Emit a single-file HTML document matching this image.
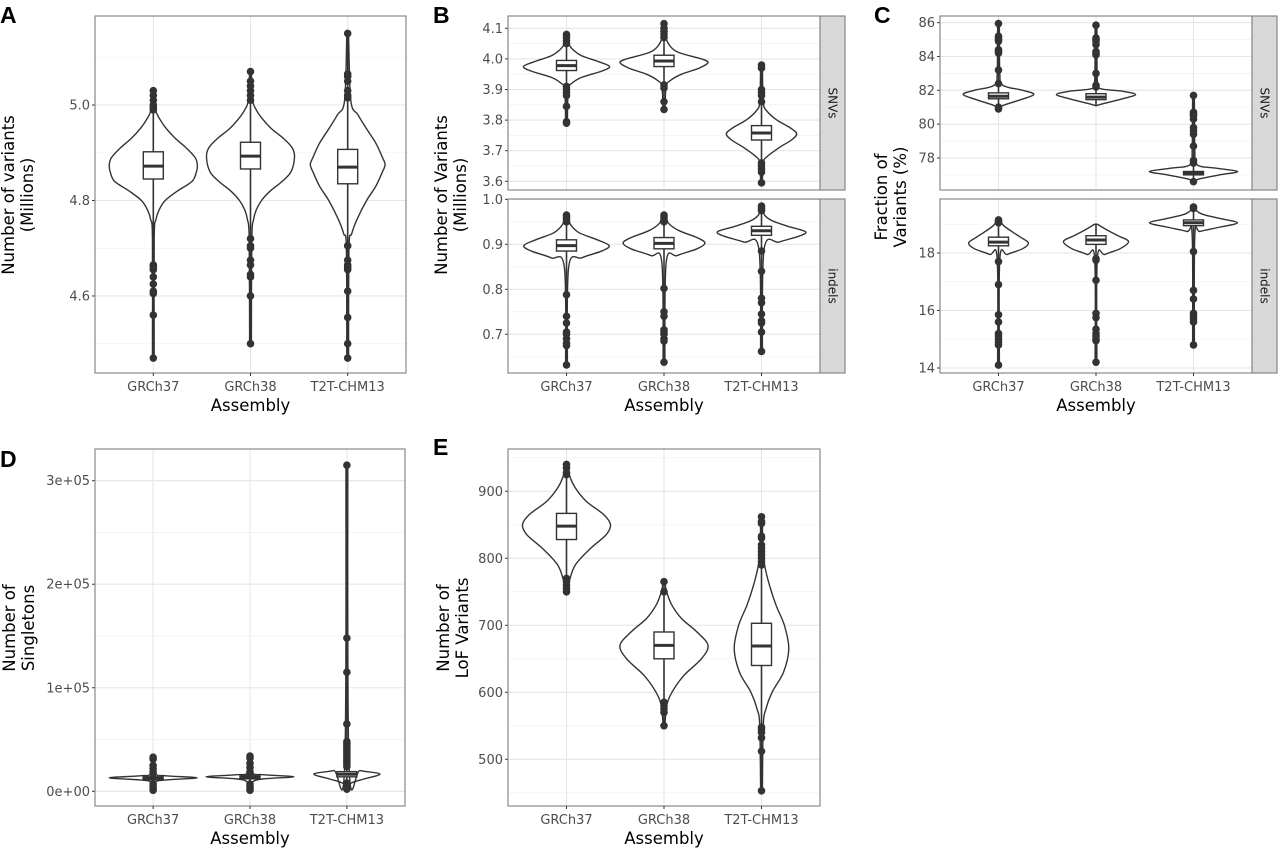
<!DOCTYPE html>
<html><head><meta charset="utf-8"><style>
body{margin:0;background:#fff;}
svg{display:block;font-family:"DejaVu Sans","Liberation Sans",sans-serif;}
</style></head><body>
<svg id="fig" width="1280" height="848" viewBox="0 0 1280 848" xmlns="http://www.w3.org/2000/svg"></svg>
<script>
// ---------- DATA ----------
const categories = ["GRCh37","GRCh38","T2T-CHM13"];

// Panel A
const A_q1=[4.845,4.866,4.835], A_med=[4.872,4.893,4.870], A_q3=[4.902,4.922,4.907];
const A_out=[[5.03,5.02,5.01,5.0,4.995,4.99,4.665,4.66,4.655,4.64,4.625,4.61,4.605,4.56,4.47],
 [5.07,5.05,5.04,5.03,5.02,5.01,4.72,4.705,4.70,4.675,4.665,4.645,4.64,4.6,4.5],
 [5.15,5.065,5.06,5.05,5.03,5.02,5.015,4.705,4.675,4.665,4.66,4.655,4.61,4.555,4.5,4.47]];
const A_vv=[[4.47,4.72,4.76,4.78,4.80,4.82,4.84,4.86,4.875,4.89,4.91,4.93,4.95,4.97,4.99,5.03],
 [4.50,4.72,4.76,4.78,4.80,4.82,4.84,4.86,4.89,4.91,4.93,4.95,4.97,4.99,5.01,5.07],
 [4.47,4.70,4.73,4.76,4.80,4.83,4.86,4.875,4.89,4.92,4.95,4.98,5.01,5.15]];
const A_vd=[[0.02,0.02,0.06,0.13,0.27,0.55,0.88,0.98,1.0,0.95,0.75,0.5,0.3,0.15,0.05,0.02],
 [0.02,0.03,0.07,0.13,0.25,0.45,0.72,0.92,1.0,0.95,0.75,0.48,0.28,0.13,0.05,0.02],
 [0.02,0.03,0.09,0.21,0.43,0.64,0.79,0.85,0.79,0.64,0.43,0.23,0.07,0.02]];

// Panel B SNVs
const BS_q1=[3.962,3.975,3.735], BS_med=[3.978,3.993,3.758], BS_q3=[3.995,4.012,3.782];
const BS_out=[[4.08,4.07,4.06,4.05,3.91,3.9,3.89,3.88,3.845,3.795,3.79],
 [4.115,4.1,4.09,4.08,4.07,3.915,3.905,3.86,3.835],
 [3.98,3.97,3.90,3.89,3.88,3.86,3.66,3.65,3.64,3.63,3.595]];
const BS_vv=[[3.79,3.90,3.92,3.94,3.96,3.975,3.99,4.01,4.03,4.05,4.08],
 [3.835,3.91,3.93,3.95,3.97,3.988,4.0,4.02,4.04,4.07,4.115],
 [3.595,3.66,3.68,3.71,3.735,3.755,3.775,3.80,3.83,3.86,3.98]];
const BS_vd=[[0.02,0.04,0.12,0.35,0.8,0.98,0.75,0.35,0.15,0.05,0.02],
 [0.02,0.05,0.15,0.4,0.8,1.0,0.85,0.35,0.15,0.04,0.02],
 [0.02,0.04,0.12,0.4,0.68,0.8,0.65,0.35,0.12,0.04,0.02]];
// Panel B indels
const BI_q1=[0.885,0.89,0.92], BI_med=[0.897,0.902,0.93], BI_q3=[0.91,0.915,0.94];
const BI_out=[[0.965,0.96,0.955,0.95,0.788,0.74,0.725,0.705,0.70,0.69,0.68,0.675,0.632],
 [0.965,0.96,0.955,0.95,0.802,0.75,0.74,0.71,0.705,0.70,0.69,0.685,0.638],
 [0.985,0.98,0.975,0.885,0.84,0.78,0.77,0.745,0.73,0.725,0.705,0.662]];
const BI_vv=[[0.632,0.85,0.87,0.885,0.897,0.91,0.925,0.94,0.955,0.965],
 [0.638,0.86,0.875,0.89,0.903,0.915,0.93,0.945,0.96,0.965],
 [0.662,0.89,0.905,0.918,0.928,0.94,0.952,0.965,0.985]];
const BI_vd=[[0.02,0.05,0.35,0.8,0.97,0.7,0.3,0.12,0.04,0.02],
 [0.02,0.05,0.3,0.75,0.93,0.75,0.35,0.12,0.04,0.02],
 [0.02,0.06,0.4,0.85,1.0,0.6,0.25,0.07,0.02]];

// Panel C SNVs
const CS_q1=[81.5,81.45,77.0], CS_med=[81.65,81.6,77.1], CS_q3=[81.85,81.8,77.2];
const CS_out=[[85.95,85.2,85.1,85.0,84.9,84.4,84.3,84.2,83.2,82.4,81.0,80.9],
 [85.85,85.1,85.0,84.9,84.7,84.3,84.2,84.1,83.0,82.3,82.2],
 [81.7,80.7,80.6,80.5,80.3,79.8,79.6,79.4,78.7,77.85,77.7,76.6]];
const CS_vv=[[80.9,81.1,81.4,81.75,82.0,82.3,83,85.95],
 [81.1,81.2,81.5,81.75,81.95,82.1,82.5,85.85],
 [76.6,76.75,77.0,77.2,77.4,77.6,78.5,81.7]];
const CS_vd=[[0.02,0.1,0.45,0.8,0.55,0.1,0.03,0.02],
 [0.02,0.15,0.6,0.9,0.6,0.1,0.03,0.02],
 [0.02,0.12,0.6,1.0,0.5,0.08,0.03,0.02]];
// Panel C indels
const CI_q1=[18.25,18.3,18.95], CI_med=[18.38,18.45,19.05], CI_q3=[18.55,18.6,19.15];
const CI_out=[[19.15,19.1,19.05,17.7,16.9,15.85,15.6,15.2,15.1,15.0,14.9,14.8,14.1],
 [17.8,17.75,17.05,15.9,15.75,15.35,15.2,15.1,15.0,14.95,14.2],
 [19.6,19.55,18.05,16.7,16.4,15.9,15.8,15.7,15.6,14.8]];
const CI_vv=[[14.1,17.8,17.95,18.15,18.35,18.55,18.75,18.95,19.15],
 [14.2,17.8,17.95,18.15,18.4,18.6,18.8,19.0],
 [14.8,18.6,18.75,18.9,19.05,19.2,19.35,19.5,19.6]];
const CI_vd=[[0.02,0.03,0.2,0.55,0.68,0.5,0.3,0.12,0.02],
 [0.02,0.03,0.2,0.55,0.74,0.5,0.25,0.03],
 [0.02,0.03,0.15,0.6,1.0,0.6,0.2,0.05,0.02]];

// Panel D (thousands)
const D_q1=[11,12,14], D_med=[12.5,13.5,16.5], D_q3=[14,15,19];
const D_out=[[33,31,25,22,19,17,7,5,3,1],
 [34,32,27,23,19,17,7,5,3,1],
 [315,148,115,65,48,46,44,42,40,38,36,34,32,30,28,26,24,8,6,4,2]];
const D_vv=[[1,9,11,13,15,17,33],[1,9,12,14,16,18,34],[2,8,12,16.7,20,24,315]];
const D_vd=[[0.02,0.06,0.3,1.0,0.3,0.06,0.02],[0.02,0.06,0.3,1.0,0.3,0.06,0.02],[0.02,0.1,0.4,0.75,0.3,0.05,0.02]];

// Panel E
const E_q1=[828,650,640], E_med=[848,670,669], E_q3=[867,690,703];
const E_out=[[940,935,928,925,770,765,760,755,750],
 [765,750,585,580,575,570,550],
 [862,855,852,833,830,820,815,810,805,800,795,790,548,545,540,532,512,453]];
const E_vv=[[750,765,790,815,835,850,865,885,905,925,940],
 [549,580,600,625,650,670,690,710,730,750,765],
 [453,550,575,600,630,665,700,730,760,790,815,862]];
const E_vd=[[0.02,0.06,0.2,0.55,0.9,1.0,0.85,0.45,0.2,0.06,0.02],
 [0.02,0.06,0.18,0.45,0.85,1.0,0.75,0.4,0.18,0.06,0.02],
 [0.02,0.04,0.1,0.24,0.5,0.62,0.52,0.33,0.18,0.07,0.03,0.02]];

// tick labels
const A_ticks=[4.6,4.8,5.0], A_tickLabels=["4.6","4.8","5.0"];
const BS_ticks=[3.6,3.7,3.8,3.9,4.0,4.1], BS_tickLabels=["3.6","3.7","3.8","3.9","4.0","4.1"];
const BI_ticks=[0.7,0.8,0.9,1.0], BI_tickLabels=["0.7","0.8","0.9","1.0"];
const CS_ticks=[78,80,82,84,86], CS_tickLabels=["78","80","82","84","86"];
const CI_ticks=[14,16,18], CI_tickLabels=["14","16","18"];
const D_ticks=[0,100,200,300], D_tickLabels=["0e+00","1e+05","2e+05","3e+05"];
const E_ticks=[500,600,700,800,900], E_tickLabels=["500","600","700","800","900"];

// ---------- RENDER ----------
const NS="http://www.w3.org/2000/svg";
const svg=document.getElementById('fig');
function mk(tag,attrs,parent){const e=document.createElementNS(NS,tag);for(const k in attrs)e.setAttribute(k,attrs[k]);(parent||svg).appendChild(e);return e;}
const INK="#333333", HW=44;

function catmull(pts){
  let d="M"+pts[0][0].toFixed(2)+","+pts[0][1].toFixed(2);
  for(let i=0;i<pts.length-1;i++){
    const p0=pts[Math.max(0,i-1)],p1=pts[i],p2=pts[i+1],p3=pts[Math.min(pts.length-1,i+2)];
    const c1=[p1[0]+(p2[0]-p0[0])/6,p1[1]+(p2[1]-p0[1])/6];
    const c2=[p2[0]-(p3[0]-p1[0])/6,p2[1]-(p3[1]-p1[1])/6];
    d+="C"+c1[0].toFixed(2)+","+c1[1].toFixed(2)+" "+c2[0].toFixed(2)+","+c2[1].toFixed(2)+" "+p2[0].toFixed(2)+","+p2[1].toFixed(2);
  }
  return d;
}

function facet(g,x0,x1,y0,y1,vmin,vmax,ticks,tickLabels,vv,vd,q1,med,q3,out,name){
  const yS=v=>y0+(vmax-v)/(vmax-vmin)*(y1-y0);
  const xS=i=>x0+(i+0.6)*(x1-x0)/3.2;
  const grid=mk('g',{},g);
  
  
  const step=ticks[1]-ticks[0];
  for(let t=ticks[0]-step/2;t<=vmax;t+=step){ if(t<vmin)continue;
    mk('line',{x1:x0,x2:x1,y1:yS(t),y2:yS(t),stroke:"#f2f2f2","stroke-width":0.8},grid);}
  ticks.forEach((t,i)=>{const y=yS(t);
    mk('line',{x1:x0,x2:x1,y1:y,y2:y,stroke:"#e6e6e6","stroke-width":1.1},grid);
    mk('line',{x1:x0-3,x2:x0,y1:y,y2:y,stroke:INK,"stroke-width":1},g);
    const tl=mk('text',{x:x0-5,y:y+4.5,"text-anchor":"end","font-size":13,fill:"#4d4d4d"},g);
    tl.textContent=tickLabels[i];
    
    
  });
  for(let i=0;i<3;i++)mk('line',{x1:xS(i),x2:xS(i),y1:y0,y2:y1,stroke:"#e6e6e6","stroke-width":1.1},grid);
  for(let i=0;i<3;i++){
    const cx=xS(i);
    const grp=mk('g',{},g);
    
    
    const right=vv[i].map((v,k)=>[cx+vd[i][k]*HW,yS(v)]).reverse();
    const left=vv[i].map((v,k)=>[cx-vd[i][k]*HW,yS(v)]);
    const d=catmull(right)+" L"+left[0][0].toFixed(2)+","+left[0][1].toFixed(2)+catmull(left).replace(/^M[^C]*/,"")+"Z";
    mk('path',{d:d,fill:"#fff",stroke:INK,"stroke-width":1.4},grp);
    const lo=Math.min(...vv[i]),hi=Math.max(...vv[i]);
    mk('line',{x1:cx,x2:cx,y1:yS(lo),y2:yS(hi),stroke:INK,"stroke-width":1.6},grp);
    const bw=10;
    mk('rect',{x:cx-bw,y:yS(q3[i]),width:2*bw,height:Math.max(0.5,yS(q1[i])-yS(q3[i])),fill:"#fff",stroke:INK,"stroke-width":1.4},grp);
    mk('line',{x1:cx-bw,x2:cx+bw,y1:yS(med[i]),y2:yS(med[i]),stroke:INK,"stroke-width":3},grp);
    out[i].forEach(o=>{const c=mk('circle',{cx:cx,cy:yS(o),r:3.8,fill:INK},grp);
      
      });
  }
  mk('rect',{x:x0,y:y0,width:x1-x0,height:y1-y0,fill:"none",stroke:"#7f7f7f","stroke-width":1.1},g);
}
function xaxis(g,x0,x1,y1,name){
  const xS=i=>x0+(i+0.6)*(x1-x0)/3.2;
  for(let i=0;i<3;i++){
    mk('line',{x1:xS(i),x2:xS(i),y1:y1,y2:y1+3,stroke:INK,"stroke-width":1},g);
    const t=mk('text',{x:xS(i),y:y1+18,"text-anchor":"middle","font-size":13,fill:"#4d4d4d"},g);
    t.textContent=categories[i];
    
    
  }
  const at=mk('text',{x:(x0+x1)/2,y:y1+38,"text-anchor":"middle","font-size":16.5,fill:"#000"},g);
  at.textContent="Assembly";
  
  
}
function ytitle(g,x,yc,lines,name){
  const t=mk('text',{transform:`translate(${x},${yc}) rotate(-90)`,"text-anchor":"middle","font-size":16.5,fill:"#000"},g);
  lines.forEach((l,i)=>{const s=mk('tspan',{x:0,dy:i?19:0},t);s.textContent=l;});
  
  
}
function strip(g,x,y0,y1,label,name){
  mk('rect',{x:x,y:y0,width:25,height:y1-y0,fill:"#d9d9d9",stroke:"#7f7f7f","stroke-width":1.1},g);
  const t=mk('text',{transform:`translate(${x+8.5},${(y0+y1)/2}) rotate(90)`,"text-anchor":"middle","font-size":12,fill:"#1a1a1a"},g);
  t.textContent=label;
  
  
}
function letter(x,y,l){const t=mk('text',{x:x,y:y,"font-size":23,"font-weight":"bold",fill:"#000","font-family":"Liberation Sans, sans-serif"});t.textContent=l;
  
  }

// Panel A
let g=mk('g',{});  
facet(g,95,406,16,373,4.4387,5.1864,A_ticks,A_tickLabels,A_vv,A_vd,A_q1,A_med,A_q3,A_out,'panel-a');
xaxis(g,95,406,373,'panel-a'); ytitle(g,14,195,["Number of variants","(Millions)"],'panel-a'); letter(0,23,"A");
// Panel B
g=mk('g',{});  
facet(g,508,820,16,190,3.5716,4.1402,BS_ticks,BS_tickLabels,BS_vv,BS_vd,BS_q1,BS_med,BS_q3,BS_out,'panel-b-snvs');
facet(g,508,820,199,373,0.614,1.0007,BI_ticks,BI_tickLabels,BI_vv,BI_vd,BI_q1,BI_med,BI_q3,BI_out,'panel-b-indels');
strip(g,820,16,190,"SNVs",'panel-b'); strip(g,820,199,373,"indels",'panel-b');
xaxis(g,508,820,373,'panel-b'); ytitle(g,447,195,["Number of Variants","(Millions)"],'panel-b'); letter(433,23,"B");
// Panel C
g=mk('g',{});  
facet(g,940,1252,16,190,76.105,86.396,CS_ticks,CS_tickLabels,CS_vv,CS_vd,CS_q1,CS_med,CS_q3,CS_out,'panel-c-snvs');
facet(g,940,1252,199,373,13.826,19.878,CI_ticks,CI_tickLabels,CI_vv,CI_vd,CI_q1,CI_med,CI_q3,CI_out,'panel-c-indels');
strip(g,1252,16,190,"SNVs",'panel-c'); strip(g,1252,199,373,"indels",'panel-c');
xaxis(g,940,1252,373,'panel-c'); ytitle(g,887,197,["Fraction of","Variants (%)"],'panel-c'); letter(874,23,"C");
// Panel D
g=mk('g',{});  
facet(g,95,405,449,806,-14.2,330.6,D_ticks,D_tickLabels,D_vv,D_vd,D_q1,D_med,D_q3,D_out,'panel-d');
xaxis(g,95,405,806,'panel-d'); ytitle(g,15,628,["Number of","Singletons"],'panel-d'); letter(0,467,"D");
// Panel E
g=mk('g',{});  
facet(g,508,820,449,806,430.3,963.1,E_ticks,E_tickLabels,E_vv,E_vd,E_q1,E_med,E_q3,E_out,'panel-e');
xaxis(g,508,820,806,'panel-e'); ytitle(g,449,628,["Number of","LoF Variants"],'panel-e'); letter(433,455,"E");
</script>
</body></html>
